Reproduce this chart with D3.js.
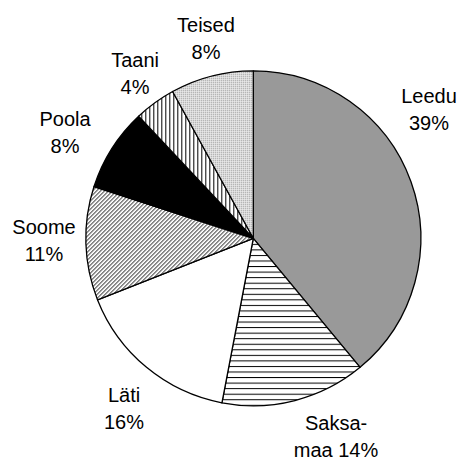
<!DOCTYPE html>
<html><head><meta charset="utf-8">
<script src="https://cdn.jsdelivr.net/npm/d3@7"></script>
<style>html,body{margin:0;padding:0;background:#fff;}svg{display:block;}</style>
</head><body>
<script>
const categories = ["Leedu", "Saksamaa", "Läti", "Soome", "Poola", "Taani", "Teised"];
const values = [39, 14, 16, 11, 8, 4, 8];
const labelLine1 = ["Leedu", "Saksa-", "Läti", "Soome", "Poola", "Taani", "Teised"];
const labelLine2 = ["39%", "maa 14%", "16%", "11%", "8%", "4%", "8%"];

const W = 459, H = 457;
const cx = 253.3, cy = 238.3, R = 167.5, LR = 200;
const fills = ["#999999", "url(#pHoriz)", "#ffffff", "url(#pDiag)", "#000000", "url(#pVert)", "url(#pDots)"];
const nudges = [[-12.5, -54.3], [33, 11.5], [-1.8, 23.1], [-9.4, 2.9], [-19.4, 8.6], [-0.7, 3.8], [2.4, 1.2]];

const svg = d3.select("body").append("svg").attr("width", W).attr("height", H);
const defs = svg.append("defs");

// horizontal lines
const ph = defs.append("pattern").attr("id", "pHoriz").attr("patternUnits", "userSpaceOnUse")
  .attr("width", 8).attr("height", 5.55);
ph.append("rect").attr("width", 8).attr("height", 5.55).attr("fill", "#fff");
ph.append("line").attr("x1", 0).attr("x2", 8).attr("y1", 0.5).attr("y2", 0.5).attr("stroke", "#000").attr("stroke-width", 1);

// vertical lines
const pv = defs.append("pattern").attr("id", "pVert").attr("patternUnits", "userSpaceOnUse")
  .attr("width", 4).attr("height", 8);
pv.append("rect").attr("width", 4).attr("height", 8).attr("fill", "#fff");
pv.append("line").attr("x1", 0.5).attr("x2", 0.5).attr("y1", 0).attr("y2", 8).attr("stroke", "#000").attr("stroke-width", 1);

// dense diagonal
const pd = defs.append("pattern").attr("id", "pDiag").attr("patternUnits", "userSpaceOnUse")
  .attr("width", 4).attr("height", 4);
pd.append("rect").attr("width", 4).attr("height", 4).attr("fill", "#fff");
pd.append("path").attr("d", "M-1,5 L5,-1 M-1,1 L1,-1 M3,5 L5,3").attr("stroke", "#000").attr("stroke-width", 1);

// dots
const pdt = defs.append("pattern").attr("id", "pDots").attr("patternUnits", "userSpaceOnUse")
  .attr("width", 2).attr("height", 2);
pdt.append("rect").attr("width", 2).attr("height", 2).attr("fill", "#f2f2f2");
pdt.append("rect").attr("width", 1).attr("height", 1).attr("fill", "#777");

const pie = d3.pie().sort(null).value(d => d);
const arcs = pie(values);
const arc = d3.arc().innerRadius(0).outerRadius(R);
const labelArc = d3.arc().innerRadius(LR).outerRadius(LR);

const g = svg.append("g").attr("transform", `translate(${cx},${cy})`);
g.selectAll("path.slice").data(arcs).join("path")
  .attr("class", "slice")
  .attr("d", arc)
  .attr("fill", (d, i) => fills[i])
  .attr("stroke", "#000")
  .attr("stroke-width", 1.3)
  .attr("stroke-linejoin", "round");

const lbl = g.selectAll("g.lbl").data(arcs).join("g").attr("class", "lbl")
  .attr("transform", (d, i) => {
    const c = labelArc.centroid(d);
    return `translate(${c[0] + nudges[i][0]},${c[1] + nudges[i][1]})`;
  });
lbl.append("text").attr("text-anchor", "middle").attr("y", -13.6)
  .attr("font-family", "Liberation Sans, Arial, sans-serif").attr("font-size", 20).attr("fill", "#000")
  .text((d, i) => labelLine1[i]);
lbl.append("text").attr("text-anchor", "middle").attr("y", 13.6)
  .attr("font-family", "Liberation Sans, Arial, sans-serif").attr("font-size", 20).attr("fill", "#000")
  .text((d, i) => labelLine2[i]);
</script>
</body></html>
